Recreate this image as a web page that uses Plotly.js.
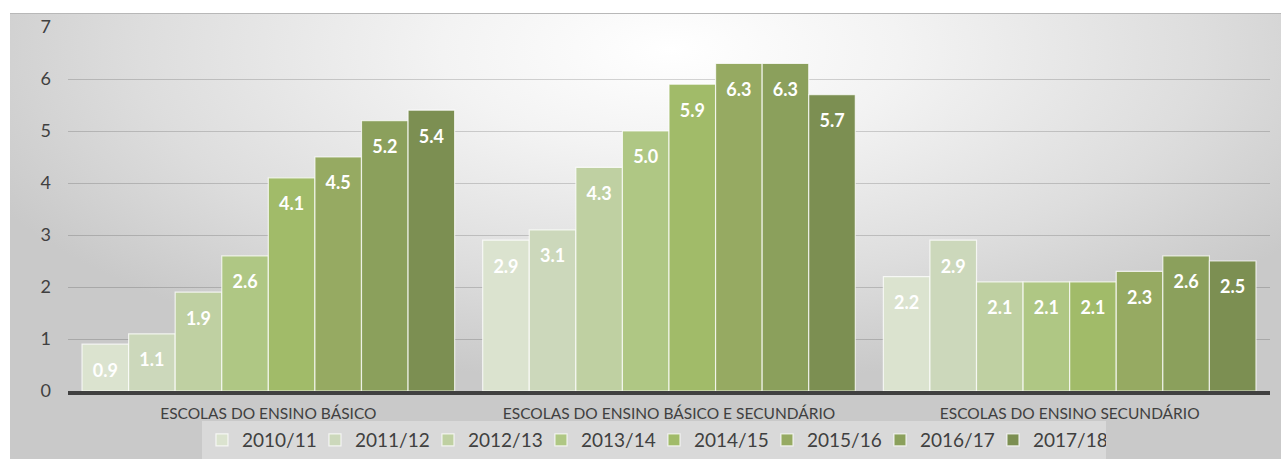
<!DOCTYPE html>
<html>
<head>
<meta charset="utf-8">
<script src="https://cdn.plot.ly/plotly-3.0.1.min.js"></script>
<style>
  html, body { margin: 0; padding: 0; background: #ffffff; }
  #wrap { position: relative; width: 1283px; height: 459px; }
  #bg { position: absolute; left: 10px; top: 13px; width: 1271px; height: 446px;
        border-top: 1px solid #b8b8b8;
        background: radial-gradient(ellipse 60% 75% at 52% 8%, #ffffff 0%, #f3f3f3 30%, #dddddd 70%, #c9c9c9 100%); }
  #chart { position: absolute; left: 0; top: 0; width: 1283px; height: 459px; }
</style>
</head>
<body>
<div id="wrap">
  <div id="bg"></div>
  <div id="chart"></div>
</div>
<script>
const categories = ["ESCOLAS DO ENSINO BÁSICO", "ESCOLAS DO ENSINO BÁSICO E SECUNDÁRIO", "ESCOLAS DO ENSINO SECUNDÁRIO"];
const seriesNames = ["2010/11", "2011/12", "2012/13", "2013/14", "2014/15", "2015/16", "2016/17", "2017/18"];
const s2010 = [0.9, 2.9, 2.2];
const s2011 = [1.1, 3.1, 2.9];
const s2012 = [1.9, 4.3, 2.1];
const s2013 = [2.6, 5.0, 2.1];
const s2014 = [4.1, 5.9, 2.1];
const s2015 = [4.5, 6.3, 2.3];
const s2016 = [5.2, 6.3, 2.6];
const s2017 = [5.4, 5.7, 2.5];
const seriesValues = [s2010, s2011, s2012, s2013, s2014, s2015, s2016, s2017];
const colors = ["#dbe3cf", "#ccd8bb", "#bfd0a2", "#afc784", "#a1bb69", "#96aa62", "#8ba05c", "#7c8f52"];
const yTicks = [0, 1, 2, 3, 4, 5, 6, 7];

const font = "Lato, 'Open Sans', sans-serif";

const traces = seriesNames.map((name, i) => ({
  type: "bar",
  name: name,
  x: categories,
  y: seriesValues[i],
  marker: { color: colors[i], line: { color: "rgba(255,255,255,0.75)", width: 1.2 } },
  texttemplate: "<span style=\"font-size:6px\">&nbsp;</span><br><b>%{y:.1f}</b>",
  textposition: "inside",
  insidetextanchor: "end",
  textangle: 0,
  constraintext: "none",
  textfont: { family: font, size: 18, color: "#ffffff" },
  hoverinfo: "skip"
}));

const layout = {
  width: 1283,
  height: 459,
  margin: { l: 68, r: 13, t: 27, b: 68 },
  paper_bgcolor: "rgba(0,0,0,0)",
  plot_bgcolor: "rgba(0,0,0,0)",
  barmode: "group",
  bargap: 0.07,
  bargroupgap: 0,
  font: { family: font, color: "#404040" },
  showlegend: true,
  legend: {
    orientation: "h",
    x: 0.4875, xanchor: "center",
    yref: "container",
    y: 0.0414, yanchor: "middle",
    font: { family: font, size: 19, color: "#404040" },
    bgcolor: "rgba(255,255,255,0.3)",
    entrywidth: 68,
    itemclick: false
  },
  xaxis: {
    type: "category",
    showgrid: false,
    zeroline: false,
    showline: true,
    linecolor: "#404040",
    linewidth: 4,
    ticks: "",
    tickfont: { family: font, size: 15.5, color: "#404040" },
    ticklabelstandoff: 5
  },
  yaxis: {
    range: [0, 7],
    tickvals: yTicks,
    ticktext: yTicks.map(String),
    showgrid: true,
    gridcolor: "rgba(0,0,0,0.16)",
    gridwidth: 1,
    zeroline: false,
    showline: false,
    ticks: "",
    tickfont: { family: font, size: 18, color: "#404040" },
    ticklabelstandoff: 16
  }
};

Plotly.newPlot("chart", traces, layout, { displayModeBar: false, staticPlot: true });
</script>
</body>
</html>
